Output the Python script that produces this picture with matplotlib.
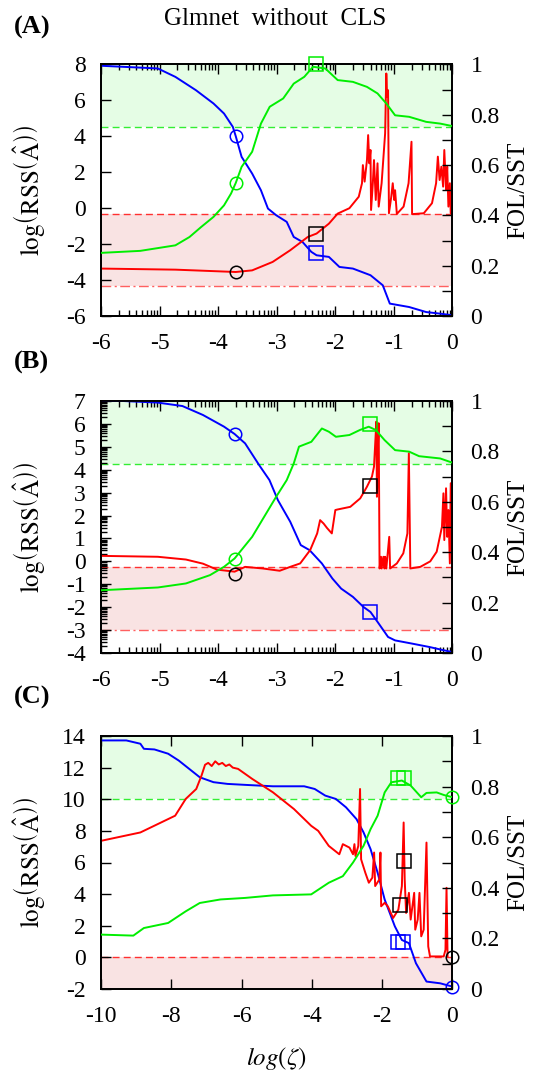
import numpy as np
import matplotlib
matplotlib.use('Agg')
from matplotlib import pyplot as plt
from matplotlib.ticker import FixedLocator, MultipleLocator, FuncFormatter

plt.rcParams['font.family'] = ['Liberation Serif', 'DejaVu Serif']
plt.rcParams['mathtext.fontset'] = 'stix'
plt.rcParams['axes.unicode_minus'] = False

BLUE = '#0000ff'
GREEN = '#00ee00'
RED = '#ff0000'

# ---------- panel A ----------
a_blue_x = [-6, -5.03, -4.73, -4.38, -4.08, -3.90, -3.75, -3.70, -3.60, -3.42, -3.27, -3.15, -3.01, -2.83,
            -2.71, -2.56, -2.41, -2.32, -2.11, -1.93, -1.70, -1.40, -1.19, -1.07, -0.74, -0.45, -0.21, 0]
a_blue_y = [7.93, 7.78, 7.31, 6.57, 5.83, 5.27, 4.53, 4.01, 2.86, 1.93, 1.0, -0.02, -0.39, -0.76,
            -1.60, -1.88, -2.43, -2.62, -2.71, -3.27, -3.36, -3.73, -4.29, -5.31, -5.50, -5.78, -5.87, -5.96]
a_green_x = [-6, -5.33, -4.73, -4.49, -4.29, -4.08, -3.90, -3.78, -3.70, -3.60, -3.42, -3.27, -3.12, -2.89,
             -2.71, -2.53, -2.38, -2.17, -1.96, -1.70, -1.46, -1.28, -1.13, -0.98, -0.74, -0.45, -0.21, 0]
a_green_y = [0.251, 0.259, 0.281, 0.314, 0.354, 0.394, 0.44, 0.487, 0.529, 0.593, 0.653, 0.765, 0.832, 0.865,
             0.924, 0.951, 0.991, 0.984, 0.938, 0.931, 0.911, 0.885, 0.845, 0.798, 0.792, 0.772, 0.765, 0.755]
a_red_x = [-6, -4.73, -3.70, -3.42, -3.07, -2.77, -2.47, -2.32, -2.11, -1.96, -1.76, -1.60, -1.545, -1.53,
           -1.50, -1.46, -1.44, -1.42, -1.40, -1.39, -1.36, -1.34, -1.31, -1.28, -1.26, -1.21, -1.15, -1.13,
           -1.115, -1.10, -1.085, -1.045, -1.02, -0.995, -0.98, -0.95, -0.835, -0.75, -0.70, -0.69, -0.49,
           -0.35, -0.28, -0.25, -0.22, -0.19, -0.16, -0.14, -0.11, -0.09, -0.07, -0.045, -0.03, 0]
a_red_y = [-3.36, -3.42, -3.55, -3.46, -2.99, -2.34, -1.60, -1.41, -0.86, -0.30, 0.0, 0.64, 1.39, 2.40,
           1.48, 2.68, 4.07, 2.50, 3.24, -0.10, 1.39, 2.68, 0.46, 2.50, 0.09, 1.39, 4.17, 7.50,
           6.2, 6.57, -0.28, 0.64, 1.39, 0.46, 1.0, -0.32, 0.09, 1.39, 3.70, -0.33, -0.28,
           0.28, 1.39, 2.87, 1.57, 2.31, 1.20, 3.24, 1.02, 2.31, 0.09, 1.39, -0.28, 0.83]
a_fol_cut = 0.75
a_red_cut = -0.33
a_red_low = -4.33
a_circ = {'x': -3.70, 'blue': 4.0, 'green': 0.529, 'black': -3.55}
a_sq = {'x': -2.33, 'blue': -2.47, 'green': 1.0, 'black': -1.41}

# ---------- panel B ----------
b_blue_x = [-6, -5.625, -5.03, -4.61, -4.26, -3.90, -3.72, -3.54, -3.30, -3.125, -2.98, -2.77, -2.59, -2.44,
            -2.23, -2.05, -1.90, -1.70, -1.52, -1.40, -1.28, -1.10, -0.98, -0.69, -0.39, -0.15, 0]
b_blue_y = [7.0, 7.0, 6.93, 6.78, 6.39, 5.88, 5.56, 5.15, 4.20, 3.55, 2.67, 1.73, 0.71, 0.49,
            -0.09, -0.75, -1.19, -1.55, -1.99, -2.21, -2.64, -3.30, -3.45, -3.59, -3.74, -3.88, -3.96]
b_green_x = [-6, -5.03, -4.55, -4.14, -3.90, -3.72, -3.42, -3.18, -3.01, -2.83, -2.71, -2.62, -2.41, -2.23,
             -2.11, -1.99, -1.76, -1.58, -1.43, -1.31, -1.16, -0.98, -0.74, -0.57, -0.21, 0]
b_green_y = [0.249, 0.26, 0.276, 0.309, 0.342, 0.375, 0.461, 0.554, 0.62, 0.686, 0.752, 0.819, 0.838, 0.891,
             0.878, 0.858, 0.865, 0.885, 0.898, 0.885, 0.845, 0.805, 0.799, 0.781, 0.772, 0.755]
b_red_x = [-6, -5.03, -4.55, -4.26, -4.02, -3.72, -3.54, -3.24, -2.95, -2.77, -2.60, -2.43, -2.31, -2.26,
           -2.20, -2.14, -2.06, -2.00, -1.97, -1.745, -1.575, -1.46, -1.375, -1.34, -1.31, -1.30, -1.29,
           -1.27, -1.26, -1.245, -1.22, -1.21, -1.18, -1.16, -1.15, -1.13, -1.08, -1.065, -0.95, -0.84,
           -0.77, -0.745, -0.72, -0.55, -0.38, -0.27, -0.18, -0.155, -0.14, -0.11, -0.09, -0.07, -0.045,
           -0.03, 0]
b_red_y = [0.24, 0.20, 0.08, -0.10, -0.36, -0.45, -0.24, -0.31, -0.41, -0.24, -0.09, 0.49, 1.22, 1.80,
           1.65, 1.45, 1.22, 2.24, 2.26, 2.38, 2.75, 3.26, 3.70, 4.13, 5.59, 6.10, 2.82,
           5.30, 6.03, -0.31, 0.20, -0.31, 0.20, -0.31, 0.20, -0.31, 1.07, -0.31, -0.09, 0.35,
           1.22, 4.72, -0.31, -0.24, 0.0, 0.42, 1.51, 2.97, 0.93, 3.19, 1.07, 2.24, -0.09,
           3.41, -0.24]
b_fol_cut = 0.75
b_red_cut = -0.23
b_red_low = -3.0
b_circ = {'x': -3.72, 'blue': 5.56, 'green': 0.375, 'black': -0.53}
b_sq = {'x': -1.41, 'blue': -2.21, 'green': 0.907, 'black': 3.30}

# ---------- panel C ----------
c_blue_x = [-10, -9.28, -8.88, -8.78, -8.48, -8.09, -7.79, -7.49, -7.19, -6.80, -6.40, -5.90, -5.11, -4.22,
            -3.92, -3.62, -3.32, -3.03, -2.73, -2.53, -2.33, -2.13, -1.93, -1.64, -1.44, -1.24, -1.04, -0.74,
            -0.35, 0]
c_blue_y = [13.72, 13.72, 13.51, 13.19, 13.15, 12.88, 12.45, 11.92, 11.39, 11.08, 10.97, 10.91, 10.82, 10.82,
            10.65, 10.23, 10.02, 9.49, 8.74, 7.90, 6.84, 5.35, 3.66, 1.96, 1.10, 0.90, -0.37, -1.53,
            -1.64, -1.85]
c_green_x = [-10, -9.08, -8.78, -8.09, -7.59, -7.19, -6.60, -5.90, -5.11, -4.02, -3.52, -3.12, -2.83, -2.53,
             -2.33, -2.13, -1.93, -1.74, -1.44, -1.19, -0.89, -0.74, -0.45, -0.25, 0]
c_green_y = [0.215, 0.211, 0.241, 0.261, 0.307, 0.34, 0.354, 0.36, 0.37, 0.374, 0.42, 0.446, 0.50, 0.566,
             0.632, 0.685, 0.777, 0.817, 0.824, 0.804, 0.758, 0.775, 0.777, 0.767, 0.758]
c_red_x = [-10, -8.88, -7.89, -7.59, -7.29, -7.14, -7.04, -6.95, -6.85, -6.75, -6.65, -6.55, -6.45, -6.35,
           -6.25, -6.10, -5.70, -5.11, -4.51, -4.02, -3.82, -3.52, -3.22, -3.12, -2.93, -2.83, -2.79, -2.76,
           -2.68, -2.63, -2.60, -2.48, -2.38, -2.28, -2.23, -2.20, -2.08, -2.05, -2.03, -1.93, -1.84, -1.69,
           -1.54, -1.44, -1.39, -1.36, -1.32, -1.24, -1.19, -1.09, -1.06, -0.99, -0.94, -0.89, -0.82, -0.74,
           -0.69, -0.64, -0.25, -0.20, -0.17, -0.14]
c_red_y = [7.37, 7.90, 8.96, 10.02, 10.65, 11.50, 12.18, 12.30, 12.10, 12.40, 12.20, 12.30, 12.10, 12.20,
           12.00, 11.92, 11.29, 10.44, 9.38, 8.32, 8.00, 7.05, 6.52, 7.16, 6.94, 6.52, 7.16, 6.41,
           7.05, 10.65, 6.20, 5.35, 4.72, 5.04, 6.63, 4.51, 4.93, 6.63, 3.23, 3.45, 3.23, 2.49,
           3.02, 4.51, 8.53, 4.93, 2.81, 4.08, 2.39, 4.08, 1.75, 2.39, 4.08, 1.33, 1.75, 7.26,
           0.69, 0.06, 0.06, 0.48, 4.40, 0.06]
c_fol_cut = 0.75
c_red_cut = 0.0
c_circ_x = [0, 0, 0]
c_circ_y = {'blue': -1.89, 'green': 0.758, 'black': 0.0}
c_sq_green = ([-1.54, -1.39], [0.833, 0.833])
c_sq_black = ([-1.39, -1.49], [6.10, 3.34])
c_sq_blue = ([-1.54, -1.42], [1.0, 1.0])

W, H = 548, 1080
fig = plt.figure(figsize=(W / 100, H / 100), dpi=100)

AX_L, AX_R = 101, 452.5
panel_px = [(64.5, 316), (401, 653), (736, 989)]


def make_axes(top, bottom):
    return fig.add_axes([AX_L / W, 1 - bottom / H, (AX_R - AX_L) / W, (bottom - top) / H])


def style(ax, tw, ylim, ystep, xlim, xstep, xminor=None, yminor=None):
    ax.set_xlim(*xlim)
    ax.set_ylim(*ylim)
    tw.set_ylim(0, 1)
    ax.xaxis.set_major_locator(MultipleLocator(xstep))
    ax.yaxis.set_major_locator(MultipleLocator(ystep))
    if xminor is not None:
        ax.xaxis.set_minor_locator(FixedLocator(xminor))
    if yminor is not None:
        ax.yaxis.set_minor_locator(FixedLocator(yminor))
    tw.yaxis.set_major_locator(MultipleLocator(0.2))
    tw.yaxis.set_minor_locator(MultipleLocator(0.1))
    fmt = FuncFormatter(lambda v, p: '%g' % round(v, 6))
    ax.xaxis.set_major_formatter(fmt)
    ax.yaxis.set_major_formatter(fmt)
    tw.yaxis.set_major_formatter(fmt)
    ax.tick_params(which='both', direction='in', top=True, right=False, labelsize=17, width=1)
    ax.tick_params(axis='x', pad=12)
    ax.tick_params(axis='y', pad=11)
    ax.tick_params(which='major', length=7)
    ax.tick_params(which='minor', length=4)
    tw.tick_params(which='both', direction='in', right=True, left=False, labelsize=17, pad=13, width=1)
    tw.tick_params(which='major', length=7)
    tw.tick_params(which='minor', length=7)
    for a in (ax, tw):
        for s in a.spines.values():
            s.set_linewidth(1.3)
    ax.set_ylabel(r'$\mathrm{log}\left(\mathrm{RSS}\left(\hat{\mathrm{A}}\right)\right)$', fontsize=18)
    ax.yaxis.set_label_coords(-0.155, 0.5)
    tw.set_ylabel('FOL/SST', fontsize=18)
    tw.yaxis.set_label_coords(1.155, 0.5)


def draw(ax, tw, ylim, bx, by, gx, gy, rx, ry, fol_cut, red_cut, red_low=None):
    lo, hi = ylim
    g_left = lo + fol_cut * (hi - lo)
    ax.axhspan(g_left, hi, color='#e5fde5', lw=0, zorder=0)
    ax.axhspan(red_low if red_low is not None else lo, red_cut, color='#f9e3e3', lw=0, zorder=0)
    ax.axhline(g_left, color='#33ee33', lw=1, dashes=(5, 3), zorder=1)
    ax.axhline(red_cut, color='#ff3030', lw=1, dashes=(5, 3), zorder=1)
    if red_low is not None:
        ax.axhline(red_low, color='#ff6060', lw=1, dashes=(7, 2.5, 1.5, 2.5), zorder=1)
    ax.plot(bx, by, color=BLUE, lw=1.4, zorder=3)
    ax.plot(rx, ry, color=RED, lw=1.4, zorder=3)
    tw.plot(gx, gy, color=GREEN, lw=1.4, zorder=3)


mk = dict(ms=9, mfc='none', mew=1.1, ls='none', zorder=5, clip_on=False)
sq = dict(ms=10, mfc='none', mew=1.1, ls='none', zorder=5, clip_on=False)

xminor6 = [n + np.log10(k) for n in range(-6, 0) for k in range(2, 10)]
yminorB = [n + np.log10(k) for n in range(-4, 7) for k in range(2, 10)]

# panel A
ax = make_axes(*panel_px[0])
tw = ax.twinx()
draw(ax, tw, (-6, 8), a_blue_x, a_blue_y, a_green_x, a_green_y, a_red_x, a_red_y,
     a_fol_cut, a_red_cut, a_red_low)
ax.plot([a_circ['x']], [a_circ['blue']], 'o', color=BLUE, **mk)
ax.plot([a_circ['x']], [a_circ['black']], 'o', color='black', **mk)
tw.plot([a_circ['x']], [a_circ['green']], 'o', color=GREEN, **mk)
ax.plot([a_sq['x']], [a_sq['blue']], 's', color=BLUE, **sq)
ax.plot([a_sq['x']], [a_sq['black']], 's', color='black', **sq)
tw.plot([a_sq['x']], [a_sq['green']], 's', color=GREEN, **sq)
style(ax, tw, (-6, 8), 2, (-6, 0), 1, xminor=xminor6)

# panel B
ax = make_axes(*panel_px[1])
tw = ax.twinx()
draw(ax, tw, (-4, 7), b_blue_x, b_blue_y, b_green_x, b_green_y, b_red_x, b_red_y,
     b_fol_cut, b_red_cut, b_red_low)
ax.plot([b_circ['x']], [b_circ['blue']], 'o', color=BLUE, **mk)
ax.plot([b_circ['x']], [b_circ['black']], 'o', color='black', **mk)
tw.plot([b_circ['x']], [b_circ['green']], 'o', color=GREEN, **mk)
ax.plot([b_sq['x']], [b_sq['blue']], 's', color=BLUE, **sq)
ax.plot([b_sq['x']], [b_sq['black']], 's', color='black', **sq)
tw.plot([b_sq['x']], [b_sq['green']], 's', color=GREEN, **sq)
style(ax, tw, (-4, 7), 1, (-6, 0), 1, xminor=xminor6, yminor=yminorB)

# panel C
ax = make_axes(*panel_px[2])
tw = ax.twinx()
draw(ax, tw, (-2, 14), c_blue_x, c_blue_y, c_green_x, c_green_y, c_red_x, c_red_y,
     c_fol_cut, c_red_cut)
ax.plot(c_circ_x[:1], [c_circ_y['blue']], 'o', color=BLUE, **mk)
ax.plot(c_circ_x[:1], [c_circ_y['black']], 'o', color='black', **mk)
tw.plot(c_circ_x[:1], [c_circ_y['green']], 'o', color=GREEN, **mk)
tw.plot(*c_sq_green, 's', color=GREEN, **sq)
ax.plot(*c_sq_black, 's', color='black', **sq)
ax.plot(*c_sq_blue, 's', color=BLUE, **sq)
style(ax, tw, (-2, 14), 2, (-10, 0), 2)
ax.set_xlabel(r'$log(\zeta)$', fontsize=18)
ax.xaxis.set_label_coords(0.5, -0.22)

fig.text(275.5 / W, 1 - 19 / H, 'Glmnet  without  CLS', ha='center', va='center', fontsize=18)
for lab, yp in [('(A)', 27), ('(B)', 362), ('(C)', 697)]:
    fig.text(14 / W, 1 - yp / H, lab, ha='left', va='center', fontsize=19, weight='bold')

plt.savefig('out.png', dpi=100)
plt.close()
